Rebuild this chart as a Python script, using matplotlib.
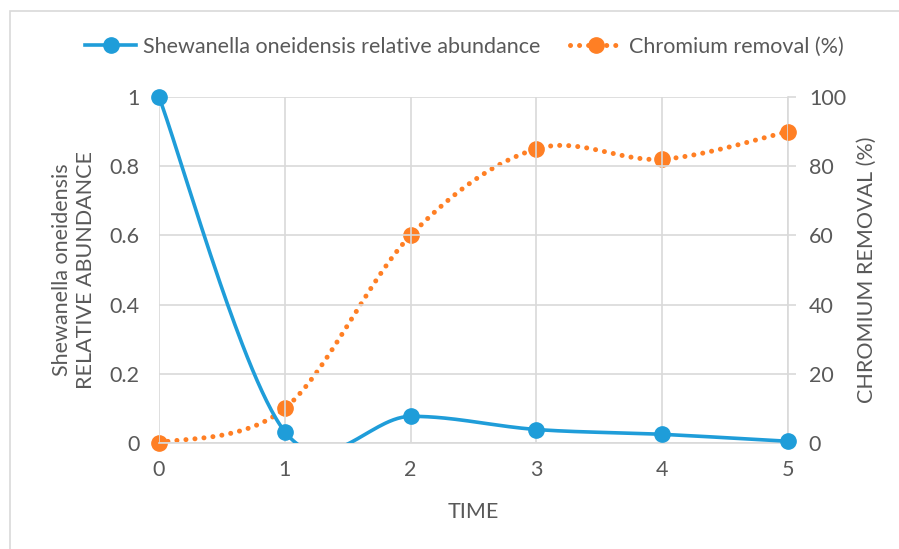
import numpy as np
import matplotlib
matplotlib.use("Agg")
import matplotlib.pyplot as plt
from matplotlib.lines import Line2D
from matplotlib.patches import Rectangle

# data
time = [0, 1, 2, 3, 4, 5]
abundance = [1.0, 0.033, 0.077, 0.039, 0.025, 0.005]
chromium_removal = [0, 10, 60, 85, 82, 90]

TEXT = "#595959"
GRID = "#D9D9D9"
BLUE = "#1F9DD9"
ORANGE = "#FF7F24"
FS = 15.5

plt.rcParams['font.family'] = ['Lato', 'DejaVu Sans']


def excel_smooth(xs, ys, n=60):
    # Bezier smoothing similar to what Excel does for "smoothed line"
    xs = np.asarray(xs, float)
    ys = np.asarray(ys, float)
    px = np.concatenate([[xs[0]], xs, [xs[-1]]])
    py = np.concatenate([[ys[0]], ys, [ys[-1]]])
    out_x, out_y = [], []
    t = np.linspace(0, 1, n)
    for i in range(1, len(px) - 2):
        x0, y0 = px[i], py[i]
        x3, y3 = px[i + 1], py[i + 1]
        x1 = x0 + (px[i + 1] - px[i - 1]) / 6
        y1 = y0 + (py[i + 1] - py[i - 1]) / 6
        x2 = x3 - (px[i + 2] - px[i]) / 6
        y2 = y3 - (py[i + 2] - py[i]) / 6
        a, b, c, d = (1 - t) ** 3, 3 * (1 - t) ** 2 * t, 3 * (1 - t) * t ** 2, t ** 3
        out_x.extend(a * x0 + b * x1 + c * x2 + d * x3)
        out_y.extend(a * y0 + b * y1 + c * y2 + d * y3)
    return np.array(out_x), np.array(out_y)


fig = plt.figure(figsize=(8.99, 5.49), dpi=100)
fig.patches.append(Rectangle((10 / 899, -0.1), 1.2, 1 - 11 / 549 + 0.1,
                             transform=fig.transFigure, fill=False,
                             edgecolor=GRID, linewidth=1.2))

ax = fig.add_axes([159 / 899, 106 / 549, 629 / 899, 346 / 549])
ax2 = ax.twinx()

ax.set_xlim(0, 5)
ax.set_ylim(0, 1)
ax2.set_ylim(0, 100)

ax.set_xticks(time)
ax.set_yticks([0, 0.2, 0.4, 0.6, 0.8, 1])
ax.set_yticklabels(["0", "0.2", "0.4", "0.6", "0.8", "1"])
ax2.set_yticks([0, 20, 40, 60, 80, 100])

ax.grid(True, color=GRID, linewidth=1.2)
ax.set_axisbelow(True)
for a in (ax, ax2):
    for s in a.spines.values():
        s.set_visible(False)
ax.spines['bottom'].set_visible(True)
ax.spines['bottom'].set_color(GRID)
ax.spines['bottom'].set_linewidth(1.2)
ax2.spines['right'].set_visible(True)
ax2.spines['right'].set_color(GRID)
ax2.spines['right'].set_linewidth(1.2)

ax.tick_params(axis='y', length=0, labelsize=FS, labelcolor=TEXT, pad=14)
ax.tick_params(axis='x', length=0, labelsize=FS, labelcolor=TEXT, pad=12)
ax2.tick_params(axis='y', length=6, color=GRID, width=1.2, direction='out',
                labelsize=FS, labelcolor=TEXT, pad=9)

# orange series on secondary axis
sx, sy = excel_smooth(time, chromium_removal)
ax2.plot(sx, sy, color=ORANGE, linewidth=3.6, dashes=(0.01, 1.8),
         dash_capstyle='round', zorder=3)
ax2.plot(time, chromium_removal, 'o', color=ORANGE, markersize=11,
         zorder=4, clip_on=False)

# blue series on primary axis, drawn above the orange one
ax.set_zorder(ax2.get_zorder() + 1)
ax.patch.set_visible(False)
bx, by = excel_smooth(time, abundance)
ax.plot(bx, by, color=BLUE, linewidth=2.6, zorder=3)
ax.plot(time, abundance, 'o', color=BLUE, markersize=11, zorder=4,
        clip_on=False)

ax.set_xlabel("TIME", fontsize=FS, color=TEXT, labelpad=16)
ax.set_ylabel("Shewanella oneidensis\nRELATIVE ABUNDANCE", fontsize=FS,
              color=TEXT, labelpad=10, linespacing=1.25)
ax2.set_ylabel("CHROMIUM REMOVAL (%)", fontsize=FS, color=TEXT, labelpad=8)

handles = [
    Line2D([], [], color=BLUE, linewidth=2.6, marker='o', markersize=11),
    Line2D([], [], color=ORANGE, linewidth=3.6, dashes=(0.01, 1.8),
           dash_capstyle='round', marker='o', markersize=11),
]
fig.legend(handles, ["Shewanella oneidensis relative abundance",
                     "Chromium removal (%)"],
           loc='center', bbox_to_anchor=(464 / 899, 1 - 47 / 549), ncol=2,
           frameon=False, fontsize=FS, labelcolor=TEXT, handlelength=2.4,
           handletextpad=0.3, columnspacing=1.4)

fig.savefig("out.png", dpi=100, facecolor="white")
